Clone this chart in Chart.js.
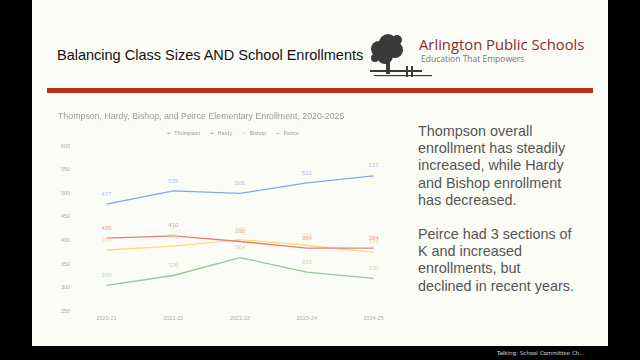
<!DOCTYPE html>
<html>
<head>
<meta charset="utf-8">
<script src="https://cdn.jsdelivr.net/npm/chart.js@4.4.0/dist/chart.umd.min.js"></script>
<style>
  html, body { margin: 0; padding: 0; background: #000; width: 640px; height: 360px; overflow: hidden; }
  #slide { position: absolute; left: 32px; top: 0; width: 576px; height: 346px; background: #fcfcf7; }
  #title { position: absolute; left: 57px; top: 47px; font: 14.5px "Liberation Sans", Arial, sans-serif; color: #111; white-space: nowrap; }
  #aps { position: absolute; left: 419px; top: 34px; font: 14.8px "Open Sans", "DejaVu Sans", sans-serif; color: #8a2b2b; white-space: nowrap; }
  #tag { position: absolute; left: 421px; top: 53px; font: 8.5px "Open Sans", "DejaVu Sans", sans-serif; color: #777; white-space: nowrap; }
  #bar { position: absolute; left: 47px; top: 88px; width: 546px; height: 5px; background: #b3331f; }
  #logo { position: absolute; left: 368px; top: 31px; }
  #notes { position: absolute; left: 418px; top: 123px; font: 14.4px "Liberation Sans", Arial, sans-serif; color: #555; line-height: 17.2px; white-space: nowrap; }
  #notes p { margin: 0 0 17px 0; }
  #chartbox { position: absolute; left: 54px; top: 104px; width: 353px; height: 222px; }
  #footer { position: absolute; left: 497px; top: 350px; font: 5.5px "DejaVu Sans", sans-serif; color: #ddd; white-space: nowrap; }
</style>
</head>
<body>
<div id="slide"></div>
<div id="title">Balancing Class Sizes AND School Enrollments</div>
<svg id="logo" width="64" height="52" viewBox="0 0 64 52">
  <g fill="#3a3a3a">
    <circle cx="20" cy="12" r="9"/>
    <circle cx="11" cy="18" r="8"/>
    <circle cx="27" cy="19" r="8"/>
    <circle cx="17" cy="25" r="8"/>
    <circle cx="29" cy="9" r="5"/>
    <circle cx="7" cy="27" r="4"/>
    <rect x="18" y="28" width="4" height="15"/>
    <rect x="2" y="39" width="52" height="2"/>
    <rect x="6" y="44" width="58" height="1.2"/>
    <rect x="38" y="35" width="2" height="11"/>
    <rect x="43" y="35" width="2" height="11"/>
  </g>
</svg>
<div id="aps">Arlington Public Schools</div>
<div id="tag">Education That Empowers</div>
<div id="bar"></div>
<div id="chartbox"><canvas id="mycanvas"></canvas></div>
<div id="notes">
  <p>Thompson overall<br>enrollment has steadily<br>increased, while Hardy<br>and Bishop enrollment<br>has decreased.</p>
  <p>Peirce had 3 sections of<br>K and increased<br>enrollments, but<br>declined in recent years.</p>
</div>
<div id="footer">Talking: School Committee Ch...</div>

<script>
const years = ['2020-21', '2021-22', '2022-23', '2023-24', '2024-25'];
const thompson = [477, 505, 500, 522, 537];
const hardy = [405, 410, 398, 384, 384];
const bishop = [380, 388, 402, 390, 375];
const peirce = [305, 326, 364, 333, 320];
const yTicks = [250, 300, 350, 400, 450, 500, 550, 600];

// draws the value over each point, like the sheet's data labels
const valueLabels = {
    id: 'valueLabels',
    afterDatasetsDraw: function (chart) {
        const ctx = chart.ctx;
        ctx.save();
        ctx.font = '6px "Liberation Sans", Arial, sans-serif';
        ctx.textAlign = 'center';
        ctx.textBaseline = 'bottom';
        chart.data.datasets.forEach(function (ds, i) {
            const meta = chart.getDatasetMeta(i);
            meta.data.forEach(function (pt, j) {
                ctx.fillStyle = ds.labelColor;
                ctx.fillText(ds.data[j], pt.x, pt.y - 7);
            });
        });
        ctx.restore();
    }
};

const ctx = document.getElementById('mycanvas').getContext('2d');
const myChart = new Chart(ctx, {
    type: 'line',
    data: {
        labels: years,
        datasets: [{
            label: 'Thompson',
            data: thompson,
            borderColor: '#86a6e2',
            labelColor: '#a9c0ee',
            backgroundColor: '#86a6e2'
        }, {
            label: 'Hardy',
            data: hardy,
            borderColor: '#e47f78',
            labelColor: '#ef9a8c',
            backgroundColor: '#e47f78'
        }, {
            label: 'Bishop',
            data: bishop,
            borderColor: '#f8dc7c',
            labelColor: '#f6d99a',
            backgroundColor: '#f8dc7c'
        }, {
            label: 'Peirce',
            data: peirce,
            borderColor: '#98c498',
            labelColor: '#bdd9bd',
            backgroundColor: '#98c498'
        }]
    },
    options: {
        responsive: true,
        maintainAspectRatio: false,
        animation: { duration: 0 },
        elements: {
            line: { borderWidth: 1.3, tension: 0 },
            point: { radius: 0 }
        },
        layout: { padding: { left: 4, right: 0, top: 0, bottom: 0 } },
        plugins: {
            title: {
                display: true,
                text: 'Thompson, Hardy, Bishop, and Peirce Elementary Enrollment, 2020-2025',
                align: 'start',
                color: '#9a9a9a',
                font: { size: 8.8, family: 'Liberation Sans', weight: 'normal' },
                padding: { top: 7, bottom: 0 }
            },
            legend: {
                labels: {
                    usePointStyle: true,
                    pointStyle: 'line',
                    boxWidth: 8,
                    boxHeight: 2,
                    padding: 9,
                    color: '#999',
                    font: { size: 5.5, family: 'Liberation Sans' }
                }
            },
            tooltip: { enabled: false }
        },
        scales: {
            x: {
                offset: true,
                grid: { display: false, drawTicks: false },
                border: { display: false },
                ticks: { color: '#aaa', font: { size: 5.5, family: 'Liberation Sans' }, padding: 4 }
            },
            y: {
                min: 250,
                max: 600,
                afterBuildTicks: function (axis) {
                    axis.ticks = yTicks.map(function (v) { return { value: v }; });
                },
                grid: { display: false, drawTicks: false },
                border: { display: false },
                ticks: { color: '#aaa', font: { size: 5.5, family: 'Liberation Sans' }, padding: 3 }
            }
        }
    },
    plugins: [valueLabels]
});
</script>
</body>
</html>
